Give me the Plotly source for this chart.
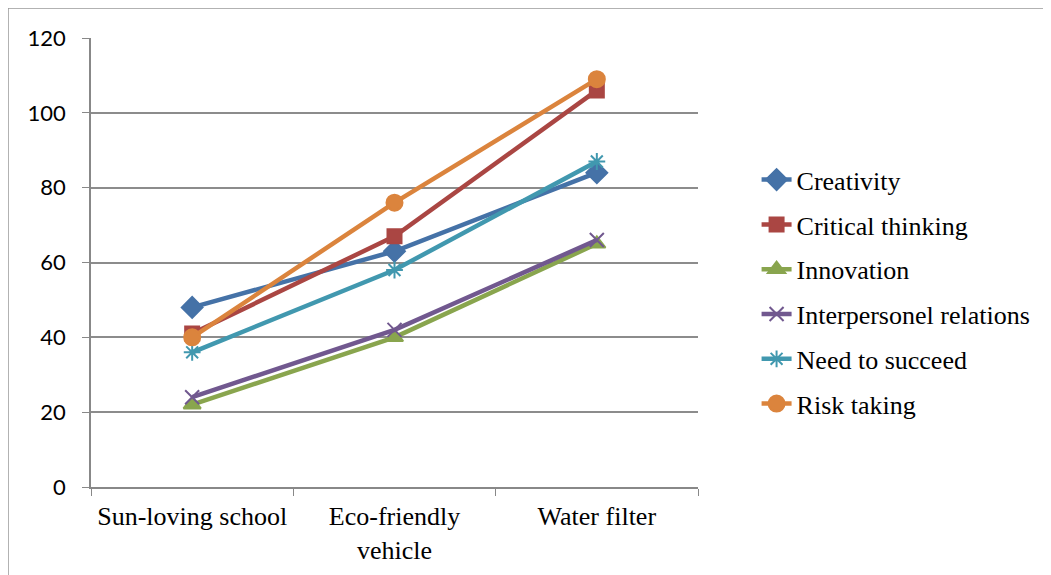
import plotly.graph_objects as go

categories = ["Sun-loving school", "Eco-friendly<br>vehicle", "Water filter"]
creativity = [48, 63, 84]
critical_thinking = [41, 67, 106]
innovation = [22, 40, 65]
interpersonel = [24, 42, 66]
need_to_succeed = [36, 58, 87]
risk_taking = [40, 76, 109]

series = [
    ("Creativity", creativity, "#4572A7", "diamond", 16),
    ("Critical thinking", critical_thinking, "#AA4643", "square", 14),
    ("Innovation", innovation, "#89A54E", "triangle-up", 15),
    ("Interpersonel relations", interpersonel, "#71588F", "x-thin-open", 14),
    ("Need to succeed", need_to_succeed, "#4198AF", "asterisk-open", 14),
    ("Risk taking", risk_taking, "#DB843D", "circle", 16),
]

SERIF = "Times New Roman, Liberation Serif, DejaVu Serif, serif"

fig = go.Figure()
for name, vals, color, sym, size in series:
    fig.add_trace(go.Scatter(
        x=categories, y=vals, name=name, mode="lines+markers",
        legendgroup=name,
        line=dict(color=color, width=4.5),
        marker=dict(symbol=sym, size=size, color=color,
                    line=dict(color=color, width=2)),
    ))

fig.update_layout(
    width=1051, height=575,
    margin=dict(l=83, r=361, t=30, b=96),
    paper_bgcolor="white", plot_bgcolor="white",
    showlegend=True,
    legend=dict(
        x=1.0965, y=0.435, xanchor="left", yanchor="middle",
        font=dict(family=SERIF, size=26, color="black"),
        tracegroupgap=8, traceorder="grouped",
        bgcolor="rgba(0,0,0,0)",
    ),
    shapes=[dict(type="rect", xref="paper", yref="paper",
                 x0=-83 / 607, x1=1.7, y0=-0.3, y1=1 + 30 / 449,
                 line=dict(color="#999999", width=1.5), layer="below")],
)
fig.update_xaxes(
    type="category", range=[-0.5, 2.5],
    showline=True, linecolor="#888888", linewidth=1.5,
    ticks="outside", tickson="boundaries", ticklen=7, tickcolor="#888888",
    tickfont=dict(family=SERIF, size=26, color="black"),
    ticklabelstandoff=5,
    showgrid=False,
)
fig.update_yaxes(
    range=[0, 120], dtick=20,
    showline=True, linecolor="#888888", linewidth=1.5,
    ticks="outside", ticklen=7, tickcolor="#888888",
    tickfont=dict(family="Lato", size=22, color="black"),
    ticklabelstandoff=12,
    showgrid=True, gridcolor="#8c8c8c", gridwidth=1.5,
    zeroline=False,
)

fig.write_html("out.html")
